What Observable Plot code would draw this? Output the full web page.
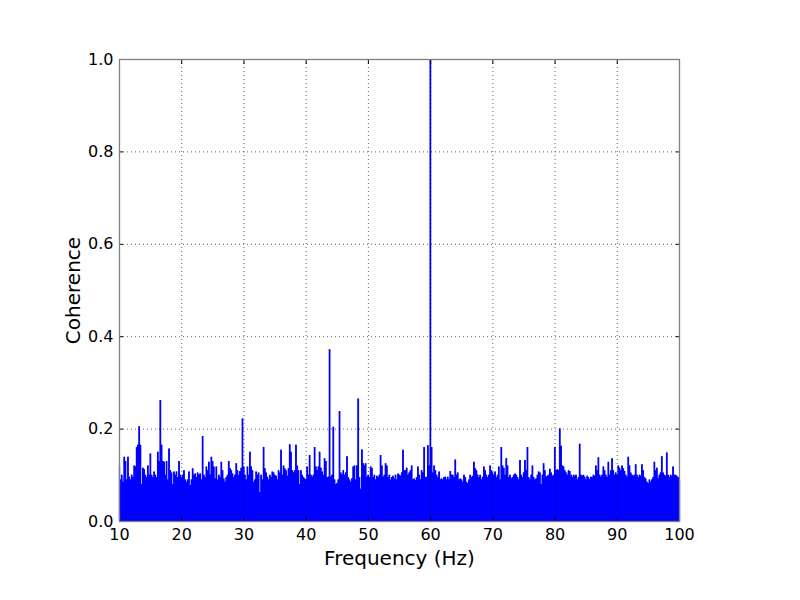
<!DOCTYPE html>
<html>
<head>
<meta charset="utf-8">
<script src="https://cdn.jsdelivr.net/npm/d3@7"></script>
<script src="https://cdn.jsdelivr.net/npm/@observablehq/plot@0.6"></script>
<style>
  html, body { margin: 0; padding: 0; background: #fff; }
  #chart { width: 800px; height: 600px; }
</style>
</head>
<body>
<div id="chart"></div>
<script>
// Frequency grid: 10 Hz to 100 Hz, sampled every 0.2 Hz
const freqStart = 10;
const freqStep = 0.2;

// Coherence values, five samples per Hz
const coherence = [
  0.12, 0.09, 0.10, 0.085, 0.139,   // 10
  0.13, 0.09, 0.139, 0.096, 0.09,   // 11
  0.10, 0.095, 0.12, 0.118, 0.16,   // 12
  0.165, 0.205, 0.165, 0.08, 0.115, // 13
  0.112, 0.10, 0.095, 0.12, 0.10,   // 14
  0.146, 0.10, 0.095, 0.107, 0.10,  // 15
  0.095, 0.15, 0.13, 0.262, 0.165,  // 16
  0.13, 0.128, 0.10, 0.13, 0.09,    // 17
  0.157, 0.11, 0.105, 0.08, 0.107,  // 18
  0.10, 0.107, 0.095, 0.13, 0.10,   // 19
  0.095, 0.10, 0.11, 0.09, 0.085,   // 20
  0.09, 0.107, 0.078, 0.09, 0.114,  // 21
  0.10, 0.103, 0.095, 0.105, 0.10,  // 22
  0.103, 0.09, 0.184, 0.10, 0.095,  // 23
  0.118, 0.11, 0.128, 0.10, 0.139,  // 24
  0.13, 0.118, 0.092, 0.118, 0.09,  // 25
  0.10, 0.095, 0.128, 0.11, 0.092,  // 26
  0.085, 0.095, 0.10, 0.13, 0.114,  // 27
  0.11, 0.103, 0.095, 0.10, 0.125,  // 28
  0.11, 0.10, 0.108, 0.115, 0.222,  // 29
  0.118, 0.10, 0.09, 0.118, 0.10,   // 30
  0.15, 0.118, 0.11, 0.085, 0.09,   // 31
  0.107, 0.10, 0.105, 0.063, 0.10,  // 32
  0.09, 0.16, 0.114, 0.105, 0.096,  // 33
  0.09, 0.10, 0.095, 0.107, 0.105,  // 34
  0.10, 0.098, 0.09, 0.11, 0.105,   // 35
  0.154, 0.10, 0.12, 0.114, 0.11,   // 36
  0.098, 0.114, 0.166, 0.15, 0.11,  // 37
  0.105, 0.11, 0.165, 0.12, 0.11,   // 38
  0.08, 0.11, 0.10, 0.095, 0.092,   // 39
  0.09, 0.118, 0.10, 0.143, 0.10,   // 40
  0.096, 0.10, 0.16, 0.118, 0.11,   // 41
  0.118, 0.15, 0.115, 0.107, 0.10,  // 42
  0.136, 0.13, 0.095, 0.096, 0.372, // 43
  0.096, 0.10, 0.204, 0.09, 0.08,   // 44
  0.082, 0.09, 0.238, 0.105, 0.10,  // 45
  0.11, 0.10, 0.105, 0.14, 0.095,   // 46
  0.09, 0.085, 0.092, 0.118, 0.12,  // 47
  0.09, 0.12, 0.265, 0.095, 0.07,   // 48
  0.155, 0.125, 0.12, 0.125, 0.096, // 49
  0.10, 0.095, 0.118, 0.115, 0.095, // 50
  0.10, 0.09, 0.098, 0.095, 0.10,   // 51
  0.143, 0.12, 0.096, 0.10, 0.125,  // 52
  0.12, 0.095, 0.10, 0.09, 0.095,   // 53
  0.098, 0.092, 0.10, 0.09, 0.103,  // 54
  0.10, 0.098, 0.105, 0.154, 0.11,  // 55
  0.11, 0.115, 0.10, 0.105, 0.11,   // 56
  0.12, 0.09, 0.092, 0.088, 0.095,  // 57
  0.118, 0.10, 0.09, 0.11, 0.105,   // 58
  0.16, 0.095, 0.096, 0.164, 0.12,  // 59
  1.0, 0.16, 0.105, 0.12, 0.11,     // 60
  0.10, 0.095, 0.107, 0.09, 0.092,  // 61
  0.09, 0.095, 0.096, 0.09, 0.096,  // 62
  0.09, 0.108, 0.10, 0.10, 0.095,   // 63
  0.133, 0.10, 0.105, 0.09, 0.092,  // 64
  0.09, 0.085, 0.10, 0.095, 0.085,  // 65
  0.082, 0.09, 0.10, 0.095, 0.098,  // 66
  0.128, 0.114, 0.11, 0.10, 0.095,  // 67
  0.10, 0.09, 0.096, 0.118, 0.11,   // 68
  0.10, 0.095, 0.10, 0.12, 0.11,    // 69
  0.105, 0.10, 0.107, 0.095, 0.10,  // 70
  0.118, 0.09, 0.16, 0.12, 0.115,   // 71
  0.10, 0.136, 0.12, 0.095, 0.10,   // 72
  0.092, 0.095, 0.10, 0.103, 0.10,  // 73
  0.095, 0.09, 0.132, 0.10, 0.095,  // 74
  0.105, 0.132, 0.11, 0.16, 0.095,  // 75
  0.09, 0.10, 0.12, 0.095, 0.09,    // 76
  0.092, 0.10, 0.107, 0.105, 0.08,  // 77
  0.10, 0.125, 0.11, 0.096, 0.098,  // 78
  0.10, 0.113, 0.105, 0.098, 0.10,  // 79
  0.16, 0.11, 0.112, 0.11, 0.20,    // 80
  0.163, 0.12, 0.118, 0.11, 0.105,  // 81
  0.10, 0.11, 0.108, 0.10, 0.095,   // 82
  0.10, 0.098, 0.10, 0.09, 0.095,   // 83
  0.167, 0.10, 0.098, 0.10, 0.096,  // 84
  0.09, 0.098, 0.095, 0.09, 0.096,  // 85
  0.095, 0.10, 0.098, 0.12, 0.11,   // 86
  0.138, 0.10, 0.096, 0.10, 0.118,  // 87
  0.11, 0.10, 0.095, 0.128, 0.10,   // 88
  0.11, 0.136, 0.11, 0.10, 0.105,   // 89
  0.10, 0.12, 0.115, 0.11, 0.12,    // 90
  0.114, 0.108, 0.10, 0.096, 0.139, // 91
  0.12, 0.105, 0.10, 0.098, 0.10,   // 92
  0.123, 0.10, 0.095, 0.10, 0.098,  // 93
  0.123, 0.11, 0.095, 0.092, 0.085, // 94
  0.082, 0.09, 0.085, 0.09, 0.095,  // 95
  0.128, 0.11, 0.115, 0.092, 0.10,  // 96
  0.105, 0.14, 0.105, 0.10, 0.098,  // 97
  0.148, 0.10, 0.095, 0.10, 0.098,  // 98
  0.118, 0.10, 0.10, 0.098, 0.095,  // 99
  0.09                              // 100
];

const xTicks = [10, 20, 30, 40, 50, 60, 70, 80, 90, 100];
const yTicks = [0.0, 0.2, 0.4, 0.6, 0.8, 1.0];
const xLabel = "Frequency (Hz)";
const yLabel = "Coherence";

const data = coherence.map((c, i) => ({ f: freqStart + i * freqStep, c }));

const chart = Plot.plot({
  width: 800,
  height: 600,
  marginLeft: 119,
  marginRight: 121,
  marginTop: 59,
  marginBottom: 79,
  x: { domain: [10, 100] },
  y: { domain: [0, 1] },
  style: { fontFamily: "DejaVu Sans", fontSize: "16px", background: "#fff", color: "#000" },
  marks: [
    Plot.areaY(data, { x: "f", y1: 0, y2: "c", curve: "step", fill: "#0000ff" }),
    Plot.ruleX(data, { x: "f", y1: 0, y2: "c", stroke: "#0000ff", strokeWidth: 1.3 }),
    Plot.gridX(xTicks, { stroke: "#000", strokeOpacity: 0.9, strokeWidth: 0.7, strokeDasharray: "1,3" }),
    Plot.gridY(yTicks, { stroke: "#000", strokeOpacity: 0.9, strokeWidth: 0.7, strokeDasharray: "1,3" }),
    Plot.axisX(xTicks, { anchor: "bottom", tickSize: 0, tickPadding: 7, tickFormat: d => String(d), label: null, fontSize: 16 }),
    Plot.axisY(yTicks, { anchor: "left", tickSize: 0, tickPadding: 6, tickFormat: d => d.toFixed(1), label: null, fontSize: 16 }),
    Plot.axisX(xTicks, { anchor: "bottom", tickSize: -4, text: null, label: null }),
    Plot.axisX(xTicks, { anchor: "top", tickSize: -4, text: null, label: null }),
    Plot.axisY(yTicks, { anchor: "left", tickSize: -4, text: null, label: null }),
    Plot.axisY(yTicks, { anchor: "right", tickSize: -4, text: null, label: null }),
    Plot.frame({ stroke: "#7f7f7f", strokeWidth: 1.3 }),
    Plot.text([xLabel], { frameAnchor: "bottom", lineAnchor: "middle", textAnchor: "middle", dy: 37, fontSize: 20, text: d => d }),
    Plot.text([yLabel], { frameAnchor: "left", lineAnchor: "middle", textAnchor: "middle", dx: -46, rotate: -90, fontSize: 20, text: d => d })
  ]
});

document.getElementById("chart").appendChild(chart);
</script>
</body>
</html>
